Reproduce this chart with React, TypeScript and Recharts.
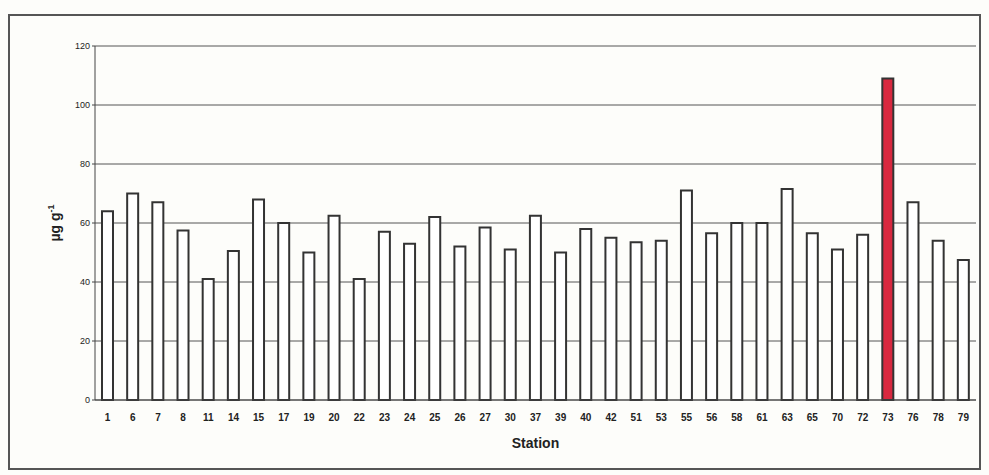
import React from 'react';
import { BarChart, Bar, XAxis, YAxis, CartesianGrid, Cell, Label } from 'recharts';

const stations = ['1','6','7','8','11','14','15','17','19','20','22','23','24','25','26','27','30','37','39','40','42','51','53','55','56','58','61','63','65','70','72','73','76','78','79'];
const values = [64,70,67,57.5,41,50.5,68,60,50,62.5,41,57,53,62,52,58.5,51,62.5,50,58,55,53.5,54,71,56.5,60,60,71.5,56.5,51,56,109,67,54,47.5];
const highlighted = '73';
const yTicks = [0,20,40,60,80,100,120];

const data = stations.map((s, i) => ({ station: s, value: values[i] }));

const YLabel = (props: any) => {
  const vb = props.viewBox || {};
  const cx = 60;
  const cy = vb.y + vb.height / 2;
  return (
    <text x={cx} y={cy} transform={`rotate(-90 ${cx} ${cy})`} textAnchor="middle" fontFamily="Liberation Sans, Arial, sans-serif" fontWeight="bold" fontSize={14} fill="#222">
      µg g<tspan dy={-6} fontSize={9}>-1</tspan>
    </text>
  );
};

export default function App() {
  return (
    <div style={{ position: 'absolute', left: 0, top: 0, width: 989, height: 475, background: '#fdfdfa' }}>
      <div style={{ position: 'absolute', left: 8, top: 14, width: 973, height: 456, border: '2px solid #555', boxSizing: 'border-box' }} />
      <BarChart width={989} height={475} data={data} margin={{ top: 46, right: 13, left: 55, bottom: 35 }}>
        <CartesianGrid yAxisId="left" vertical={false} stroke="#555" strokeWidth={1} />
        <XAxis dataKey="station" interval={0} tickLine={false} axisLine={{ stroke: '#444' }}
          tick={{ fontSize: 10, fontWeight: 'bold', fill: '#222', fontFamily: 'Liberation Sans, Arial, sans-serif' }}
          tickMargin={8} height={40}>
          <Label value="Station" position="insideBottom" offset={-8} style={{ fontSize: 14, fontWeight: 'bold', fill: '#222', fontFamily: 'Liberation Sans, Arial, sans-serif' }} />
        </XAxis>
        <YAxis yAxisId="left" domain={[0, 120]} ticks={yTicks} width={40} axisLine={{ stroke: '#444' }} tickLine={{ stroke: '#444' }} tickSize={3}
          tick={{ fontSize: 9, fill: '#222', fontFamily: 'Liberation Sans, Arial, sans-serif' }}>
          <Label content={<YLabel />} />
        </YAxis>
        <YAxis yAxisId="right" orientation="right" domain={[0, 120]} ticks={yTicks} width={0} tick={false} tickLine={false} axisLine={{ stroke: '#666' }} />
        <Bar yAxisId="left" dataKey="value" barSize={11} isAnimationActive={false} stroke="#333" strokeWidth={2}>
          {data.map((d) => (
            <Cell key={d.station} fill={d.station === highlighted ? '#d8283f' : '#ffffff'} />
          ))}
        </Bar>
      </BarChart>
    </div>
  );
}
